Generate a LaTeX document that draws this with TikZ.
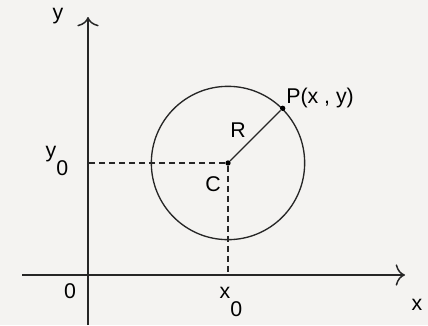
\documentclass[tikz,border=0pt]{standalone}
\usepackage{fontspec}
\setmainfont{Liberation Sans}
\usetikzlibrary{arrows.meta,positioning}

\begin{document}
\begin{tikzpicture}[
    x=0.75pt, y=-0.75pt,
    >={To[length=7pt,width=16pt]},
    every node/.style={font=\fontsize{16}{18}\selectfont, inner sep=0pt},
    axis/.style={->, line width=1.1pt, black!85},
    guide/.style={line width=1.1pt, dash pattern=on 4.5pt off 3pt, black!85},
    ring/.style={circle, draw=black!85, line width=1pt, minimum size=115pt},
    dot/.style={circle, fill=black, minimum size=4pt}
]
% background
\fill[fill={rgb,255:red,244;green,243;blue,241}] (0,0) rectangle (428,325);
\useasboundingbox (0,0) rectangle (428,325);

% axes
\coordinate (O) at (88,275);
\coordinate (xfrom) at (22,275);
\coordinate (xto) at (405,275);
\coordinate (yfrom) at (88,325);
\coordinate (yto) at (88,17);
\draw[axis] (xfrom) -- (xto);
\draw[axis] (yfrom) -- (yto);
\node (ylab) at (58,16) {y};
\node (xlab) at (417,305) {x};
\node (olab) at (70,291) {0};

% circle with centre and point
\node[dot] (C) at (228,163) {};
\node[ring] (circ) at (C) {};
\node[dot] (P) at (circ.45) {};
\draw[line width=1pt, black!85] (C) -- (P);
\node (Rlab) at (238,130) {R};
\node (Clab) at (213,184) {C};
\node[anchor=base west] (Plab) at (286,103) {P(x , y)};

% projections onto the axes
\draw[guide] (C) -- (C |- O);
\draw[guide] (C) -- (O |- C);
\node[anchor=base] (y0) at (57,157) {y\raisebox{-1.6ex}{0}};
\node[anchor=base] (x0) at (231,298) {x\raisebox{-1.6ex}{0}};

\end{tikzpicture}
\end{document}
